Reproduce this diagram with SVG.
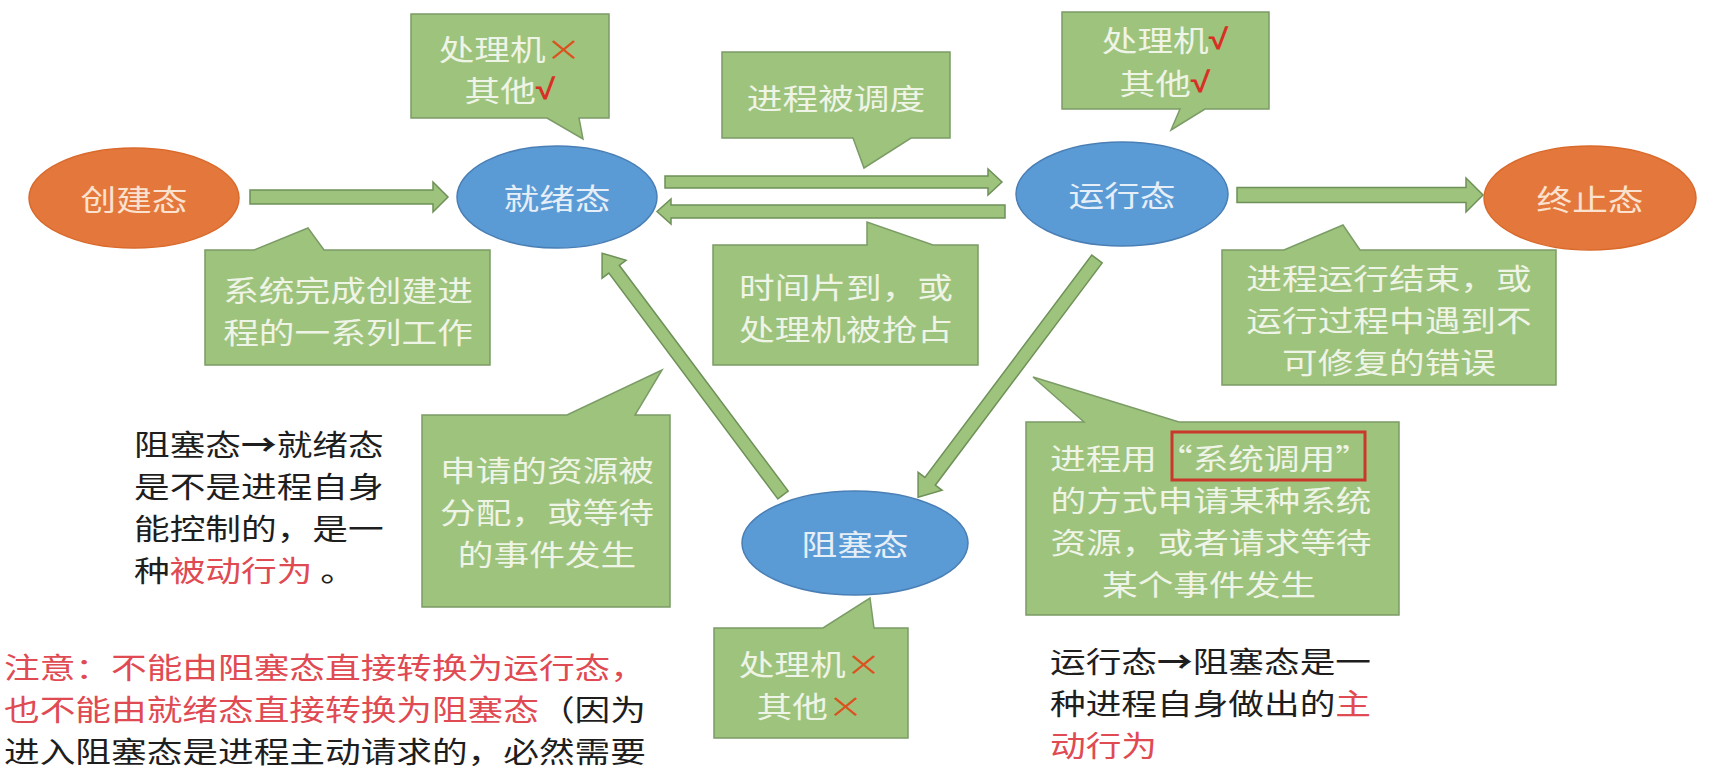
<svg xmlns="http://www.w3.org/2000/svg" width="1713" height="774" viewBox="0 0 1713 774">
<style>
.box{fill:#9EC37D;stroke:#7B9C66;stroke-width:1.5}
.arr{fill:#9EC37D;stroke:#6E9158;stroke-width:1.5}
.blue{fill:#5B9BD5;stroke:#4A7FB5;stroke-width:1.5}
.orange{fill:#E4783C;stroke:#D96A2C;stroke-width:1.5}
text{font-family:"Noto Sans CJK SC","Noto Sans",sans-serif;font-size:29px;dominant-baseline:central}
.c{text-anchor:middle}
.gt{fill:#EEF4E6}
.bt{fill:#E6EEF8}
.ot{fill:#FBE2CF}
.k{fill:#1E1E1E}
.r{fill:#E04A52}
.x{fill:#D9541E}
.v{fill:#D93025;font-weight:bold;font-family:"Liberation Sans",sans-serif}
.hl{fill:none;stroke:#C9392B;stroke-width:3}
</style>
<rect width="1713" height="774" fill="#FFFFFF"/>

<g id="connectors">
<polygon class="arr" points="250,190 433,190 433,182 448,197 433,212 433,204 250,204"/>
<polygon class="arr" points="665,176 988,176 988,169 1002,182 988,195 988,188 665,188"/>
<polygon class="arr" points="1005,205 671,205 671,199 657,211.5 671,224 671,218 1005,218"/>
<polygon class="arr" points="1237,187.5 1466,187.5 1466,178 1483,195 1466,212 1466,202.5 1237,202.5"/>
<polygon class="arr" transform="translate(783,495) rotate(-126.8)" points="0,-6.5 282,-6.5 282,-15 302,0 282,15 282,6.5 0,6.5"/>
<polygon class="arr" transform="translate(1097,259) rotate(126.9)" points="0,-6.5 278,-6.5 278,-15 298,0 278,15 278,6.5 0,6.5"/>
</g>

<g id="node-create">
<ellipse class="orange" cx="134" cy="198" rx="105" ry="50"/>
<text class="c ot" transform="translate(134,198) scale(1.23,1)">创建态</text>
</g>
<g id="node-ready">
<ellipse class="blue" cx="557" cy="197" rx="100" ry="51"/>
<text class="c bt" transform="translate(557,197) scale(1.23,1)">就绪态</text>
</g>
<g id="node-running">
<ellipse class="blue" cx="1122" cy="194" rx="106" ry="52"/>
<text class="c bt" transform="translate(1122,194) scale(1.23,1)">运行态</text>
</g>
<g id="node-terminated">
<ellipse class="orange" cx="1590" cy="198" rx="106" ry="52"/>
<text class="c ot" transform="translate(1590,198) scale(1.23,1)">终止态</text>
</g>
<g id="node-blocked">
<ellipse class="blue" cx="855" cy="543" rx="113" ry="52"/>
<text class="c bt" transform="translate(855,543) scale(1.23,1)">阻塞态</text>
</g>

<g id="callout-ready-resources">
<path class="box" d="M411,14 H609 V118 H579 L583,139 L547,118 H411 Z"/>
<text class="c gt" transform="translate(510,48) scale(1.23,1)">处理机<tspan class="x">×</tspan></text>
<text class="c gt" transform="translate(510,89) scale(1.23,1)">其他<tspan class="v">√</tspan></text>
</g>
<g id="callout-dispatch">
<path class="box" d="M722,52 H950 V138 H911 L864,168 L853,138 H722 Z"/>
<text class="c gt" transform="translate(836,97) scale(1.23,1)">进程被调度</text>
</g>
<g id="callout-running-resources">
<path class="box" d="M1062,12 H1269 V109 H1205 L1171,130 L1180,109 H1062 Z"/>
<text class="c gt" transform="translate(1165,39) scale(1.23,1)">处理机<tspan class="v">√</tspan></text>
<text class="c gt" transform="translate(1165,82) scale(1.23,1)">其他<tspan class="v">√</tspan></text>
</g>
<g id="callout-create">
<path class="box" d="M205,250 H254 L308,228 L324,250 H490 V365 H205 Z"/>
<text class="c gt" transform="translate(348,289) scale(1.23,1)">系统完成创建进</text>
<text class="c gt" transform="translate(348,331) scale(1.23,1)">程的一系列工作</text>
</g>
<g id="callout-timeslice">
<path class="box" d="M713,245 H867 L867,222 L933,245 H978 V365 H713 Z"/>
<text class="c gt" transform="translate(846,286) scale(1.23,1)">时间片到，或</text>
<text class="c gt" transform="translate(846,328) scale(1.23,1)">处理机被抢占</text>
</g>
<g id="callout-terminate">
<path class="box" d="M1222,250 H1284 L1343,225 L1360,250 H1556 V385 H1222 Z"/>
<text class="c gt" transform="translate(1389,277) scale(1.23,1)">进程运行结束，或</text>
<text class="c gt" transform="translate(1389,319) scale(1.23,1)">运行过程中遇到不</text>
<text class="c gt" transform="translate(1389,361) scale(1.23,1)">可修复的错误</text>
</g>
<g id="callout-wakeup">
<path class="box" d="M422,415 H567 L662,370 L635,415 H670 V607 H422 Z"/>
<text class="c gt" transform="translate(547,469) scale(1.23,1)">申请的资源被</text>
<text class="c gt" transform="translate(547,511) scale(1.23,1)">分配，或等待</text>
<text class="c gt" transform="translate(547,553) scale(1.23,1)">的事件发生</text>
</g>
<g id="callout-block">
<path class="box" d="M1026,422 H1084 L1033,377 L1179,422 H1399 V615 H1026 Z"/>
<rect class="hl" x="1172" y="432" width="193" height="48"/>
<text class="gt" transform="translate(1050,457) scale(1.23,1)">进程用“系统调用”</text>
<text class="c gt" transform="translate(1211,499) scale(1.23,1)">的方式申请某种系统</text>
<text class="c gt" transform="translate(1211,541) scale(1.23,1)">资源，或者请求等待</text>
<text class="c gt" transform="translate(1209,583) scale(1.23,1)">某个事件发生</text>
</g>
<g id="callout-blocked-resources">
<path class="box" d="M714,628 H823 L870,598 L874,628 H908 V738 H714 Z"/>
<text class="c gt" transform="translate(810,663) scale(1.23,1)">处理机<tspan class="x">×</tspan></text>
<text class="c gt" transform="translate(810,705) scale(1.23,1)">其他<tspan class="x">×</tspan></text>
</g>

<g id="note-passive">
<text class="k" transform="translate(134,443) scale(1.23,1)">阻塞态<tspan font-weight="bold">→</tspan>就绪态</text>
<text class="k" transform="translate(134,485) scale(1.23,1)">是不是进程自身</text>
<text class="k" transform="translate(134,527) scale(1.23,1)">能控制的，是一</text>
<text class="k" transform="translate(134,569) scale(1.23,1)">种<tspan class="r">被动行为</tspan> 。</text>
</g>
<g id="note-warning">
<text class="r" transform="translate(4,666) scale(1.23,1)">注意：不能由阻塞态直接转换为运行态，</text>
<text class="r" transform="translate(4,708) scale(1.23,1)">也不能由就绪态直接转换为阻塞态<tspan class="k">（因为</tspan></text>
<text class="k" transform="translate(4,750) scale(1.23,1)">进入阻塞态是进程主动请求的，必然需要</text>
</g>
<g id="note-active">
<text class="k" transform="translate(1050,660) scale(1.23,1)">运行态<tspan font-weight="bold">→</tspan>阻塞态是一</text>
<text class="k" transform="translate(1050,702) scale(1.23,1)">种进程自身做出的<tspan class="r">主</tspan></text>
<text class="r" transform="translate(1050,744) scale(1.23,1)">动行为</text>
</g>
</svg>
